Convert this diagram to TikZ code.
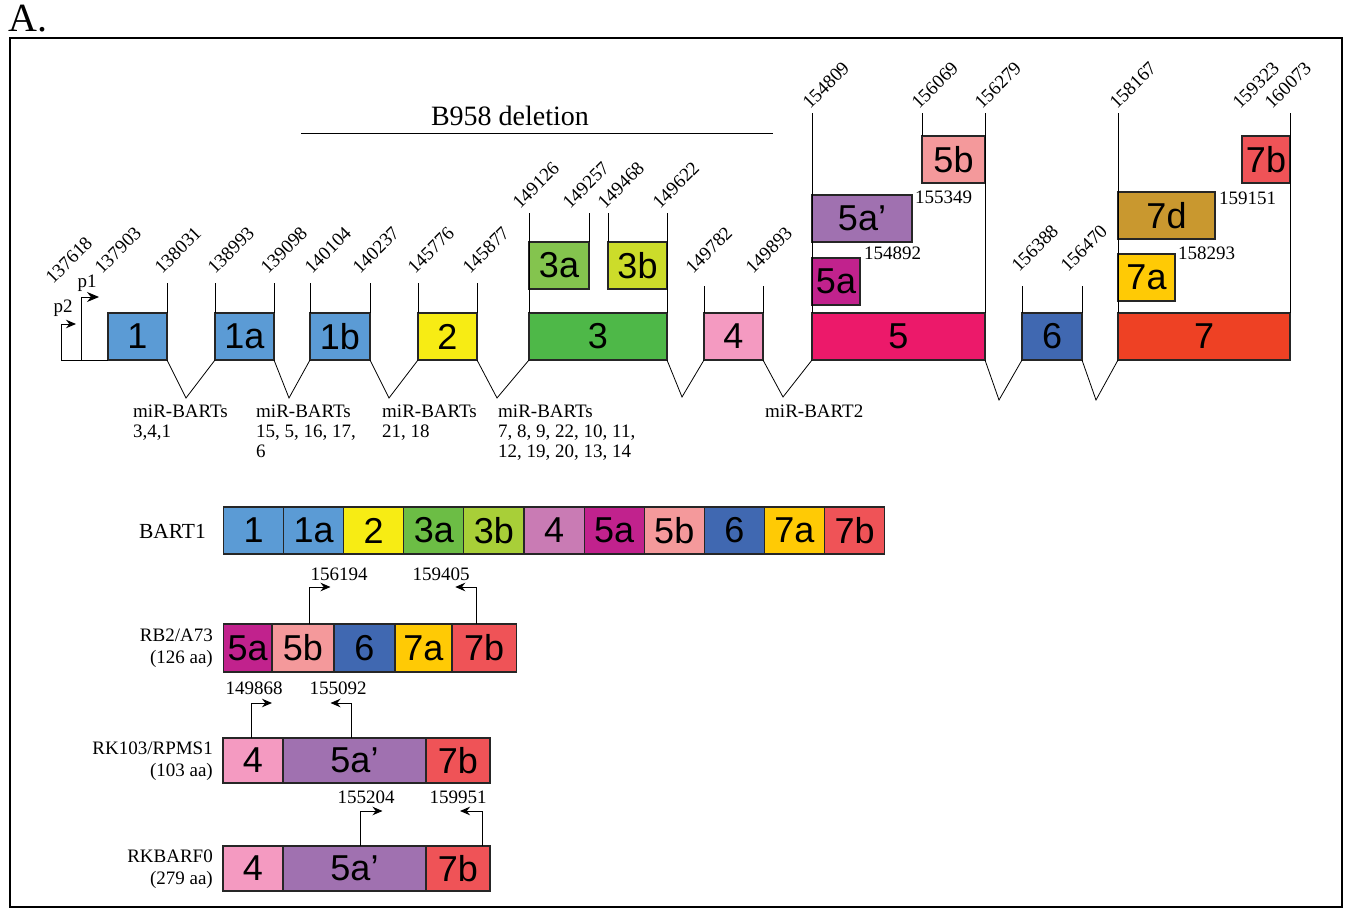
\documentclass[tikz,border=0pt]{standalone}
\usepackage{fontspec}
\setmainfont{Liberation Serif}
\newfontfamily\exonsans{Liberation Sans}
\usepackage{xcolor}
\usepackage{tikz}
\usetikzlibrary{arrows.meta,positioning}

\definecolor{exblue}{RGB}{91,155,213}
\definecolor{exyellow}{RGB}{247,236,20}
\definecolor{exgreen}{RGB}{78,184,72}
\definecolor{exgreenlt}{RGB}{132,196,78}
\definecolor{exlime}{RGB}{204,220,42}
\definecolor{expink}{RGB}{244,154,193}
\definecolor{excrimson}{RGB}{236,25,106}
\definecolor{exmagenta}{RGB}{193,34,141}
\definecolor{exlavender}{RGB}{160,113,176}
\definecolor{exsalmon}{RGB}{244,153,155}
\definecolor{exnavy}{RGB}{64,104,177}
\definecolor{exorange}{RGB}{238,65,36}
\definecolor{exgold}{RGB}{255,202,5}
\definecolor{exochre}{RGB}{201,152,47}
\definecolor{exred}{RGB}{239,83,87}
\definecolor{trgreen}{RGB}{108,189,69}
\definecolor{trlime}{RGB}{168,207,56}
\definecolor{trorchid}{RGB}{201,123,180}

\newcommand\posfont{\fontsize{19}{20}\selectfont}
\newcommand\exonfont{\exonsans\fontsize{36}{36}\selectfont}
\newcommand\trfont{\fontsize{19}{22}\selectfont}
\newcommand\delfont{\fontsize{28}{30}\selectfont}
\newcommand\panelfont{\fontsize{40}{40}\selectfont}

\begin{document}
\begin{tikzpicture}[x=1pt,y=-1pt,
        exon/.style={draw=black!85, line width=1.1pt, inner sep=0pt, outer sep=0pt, minimum height=47pt, anchor=north west, font=\exonfont},
        tbox/.style={exon, minimum height=45pt},
        sitetick/.style={line width=0.8pt},
        intron/.style={line width=0.8pt},
        poslbl/.style={rotate=45, anchor=base west, inner sep=0pt, font=\posfont},
        sidelbl/.style={anchor=west, inner sep=0pt, font=\posfont},
        mirlbl/.style={anchor=north west, align=left, inner sep=0pt, font=\posfont},
        trlbl/.style={anchor=east, align=right, inner sep=0pt, font=\trfont},
        orfarrow/.style={line width=0.9pt, -{Stealth[length=10pt,width=8.5pt]}}]
        \useasboundingbox (0,0) rectangle (1350,909);
        \node[anchor=base west, inner sep=0pt, font=\panelfont] (panel) at (8,32) {A.};
        \draw[line width=2pt] (10,38) rectangle (1342,907);

        \draw[line width=1pt] (301,134) -- (773,134);
        \node[anchor=base, inner sep=0pt, font=\delfont] (del) at (510,126) {B958 deletion};

        \node[exon, fill=exblue, minimum width=59pt] (x1) at (108,313) {1};
        \node[exon, fill=exblue, minimum width=59pt] (x1a) at (215,313) {1a};
        \node[exon, fill=exblue, minimum width=60pt] (x1b) at (310,313) {1b};
        \node[exon, fill=exyellow, minimum width=59pt] (x2) at (418,313) {2};
        \node[exon, fill=exgreen, minimum width=138pt] (x3) at (529,313) {3};
        \node[exon, fill=exgreenlt, minimum width=60pt] (x3a) at (529,242) {3a};
        \node[exon, fill=exlime, minimum width=59pt] (x3b) at (608,242) {3b};
        \node[exon, fill=expink, minimum width=59pt] (x4) at (704,313) {4};
        \node[exon, fill=excrimson, minimum width=173pt] (x5) at (812,313) {5};
        \node[exon, fill=exmagenta, minimum width=48pt] (x5a) at (812,258) {5a};
        \node[exon, fill=exlavender, minimum width=100pt] (x5ap) at (812,195) {5a’};
        \node[exon, fill=exsalmon, minimum width=63pt] (x5b) at (922,136) {5b};
        \node[exon, fill=exnavy, minimum width=60pt] (x6) at (1022,313) {6};
        \node[exon, fill=exorange, minimum width=172pt] (x7) at (1118,313) {7};
        \node[exon, fill=exgold, minimum width=57pt] (x7a) at (1118,254) {7a};
        \node[exon, fill=exochre, minimum width=97pt] (x7d) at (1118,192) {7d};
        \node[exon, fill=exred, minimum width=48pt] (x7b) at (1242,136) {7b};

        \draw[sitetick] (x1.north east) -- ++(0,-30);
        \draw[sitetick] (x1a.north west) -- ++(0,-30);
        \draw[sitetick] (x1a.north east) -- ++(0,-30);
        \draw[sitetick] (x1b.north west) -- ++(0,-30);
        \draw[sitetick] (x1b.north east) -- ++(0,-30);
        \draw[sitetick] (x2.north west) -- ++(0,-30);
        \draw[sitetick] (x2.north east) -- ++(0,-30);
        \draw[sitetick] (x3.north west) -- ++(0,-100);
        \draw[sitetick] (x3.north east) -- ++(0,-100);
        \draw[sitetick] (x3a.north east) -- ++(0,-29);
        \draw[sitetick] (x3b.north west) -- ++(0,-29);
        \draw[sitetick] (x4.north west) -- ++(0,-27);
        \draw[sitetick] (x4.north east) -- ++(0,-27);
        \draw[sitetick] (x5.north west) -- ++(0,-200);
        \draw[sitetick] (x5.north east) -- ++(0,-200);
        \draw[sitetick] (x5b.north west) -- ++(0,-23);
        \draw[sitetick] (x6.north west) -- ++(0,-27);
        \draw[sitetick] (x6.north east) -- ++(0,-27);
        \draw[sitetick] (x7.north west) -- ++(0,-200);
        \draw[sitetick] (x7.north east) -- ++(0,-200);

        \coordinate (p2) at (61,360);
        \coordinate (p1) at (81,360);
        \draw[intron] (p2) -- (x1.south west);
        \draw[orfarrow] (p2) -- ++(0,-36) -- ++(15,0);
        \draw[line width=0.9pt, -{Stealth[length=12pt,width=10pt]}] (p1) -- ++(0,-63) -- ++(18,0);
        \node[inner sep=0pt, font=\posfont] (p2lbl) at (63,308) {p2};
        \node[inner sep=0pt, font=\posfont] (p1lbl) at (87,283) {p1};

        \draw[intron] (x1.south east) -- ++(19,38) -- (x1a.south west);
        \draw[intron] (x1a.south east) -- ++(15,38) -- (x1b.south west);
        \draw[intron] (x1b.south east) -- ++(19,38) -- (x2.south west);
        \draw[intron] (x2.south east) -- ++(20,38) -- (x3.south west);
        \draw[intron] (x3.south east) -- ++(15,37) -- (x4.south west);
        \draw[intron] (x4.south east) -- ++(20,37) -- (x5.south west);
        \draw[intron] (x5.south east) -- ++(14,40) -- (x6.south west);
        \draw[intron] (x6.south east) -- ++(14,40) -- (x7.south west);

        \foreach \px/\py/\num in {53/285/137618, 102/275/137903, 162/275/138031, 215/275/138993,
                268/275/139098, 312/275/140104, 360/275/140237, 415/275/145776, 470/275/145877,
                520/210/149126, 570/210/149257, 605/210/149468, 660/210/149622, 693/275/149782,
                753/275/149893, 810/110/154809, 919/110/156069, 982/110/156279, 1019/273/156388,
                1068/273/156470, 1117/110/158167, 1240/110/159323, 1272/110/160073}
            \node[poslbl] (s\num) at (\px,\py) {\num};

        \node[sidelbl] (s155349) at (915,197) {155349};
        \node[sidelbl] (s154892) at (864,253) {154892};
        \node[sidelbl] (s159151) at (1219,198) {159151};
        \node[sidelbl] (s158293) at (1178,253) {158293};

        \node[mirlbl] (mir1) at (133,405) {miR-BARTs\\3,4,1};
        \node[mirlbl] (mir2) at (256,405) {miR-BARTs\\15, 5, 16, 17,\\6};
        \node[mirlbl] (mir3) at (382,405) {miR-BARTs\\21, 18};
        \node[mirlbl] (mir4) at (498,405) {miR-BARTs\\7, 8, 9, 22, 10, 11,\\12, 19, 20, 13, 14};
        \node[mirlbl] (mir5) at (765,405) {miR-BART2};

        \node[trlbl, font=\fontsize{21.5}{22}\selectfont] (bartname) at (206,531) {BART1};
        \foreach \lbl/\col [count=\i] in {1/exblue, 1a/exblue, 2/exyellow, 3a/trgreen, 3b/trlime, 4/trorchid,
                5a/exmagenta, 5b/exsalmon, 6/exnavy, 7a/exgold, 7b/exred}
            \node[exon, fill=\col, minimum width=60.1pt] (b\i) at ({223.5+60.1*(\i-1)},507) {\lbl};

        \node[trlbl] (rbname) at (213,648) {RB2/A73\\(126 aa)};
        \node[exon, fill=exmagenta, minimum height=48pt, minimum width=48.5pt] (r5a) at (223.5,624) {5a};
        \node[exon, fill=exsalmon, minimum height=48pt, minimum width=62pt, right=0pt of r5a] (r5b) {5b};
        \node[exon, fill=exnavy, minimum height=48pt, minimum width=61pt, right=0pt of r5b] (r6) {6};
        \node[exon, fill=exgold, minimum height=48pt, minimum width=57pt, right=0pt of r6] (r7a) {7a};
        \node[exon, fill=exred, minimum height=48pt, minimum width=64.5pt, right=0pt of r7a] (r7b) {7b};
        \draw[orfarrow] ([xshift=6.5pt]r5b.north) -- ++(0,-37) -- ++(21,0);
        \draw[orfarrow] ([xshift=-8pt]r7b.north) -- ++(0,-37) -- ++(-21,0);
        \node[inner sep=0pt, font=\posfont] (a156194) at (339,574) {156194};
        \node[inner sep=0pt, font=\posfont] (a159405) at (441,574) {159405};

        \node[trlbl] (rkname) at (213,761) {RK103/RPMS1\\(103 aa)};
        \node[tbox, fill=expink, minimum width=60pt] (k4) at (223,738) {4};
        \node[tbox, fill=exlavender, minimum width=143pt, right=0pt of k4] (k5ap) {5a’};
        \node[tbox, fill=exred, minimum width=64pt, right=0pt of k5ap] (k7b) {7b};
        \draw[orfarrow] ([xshift=-2pt]k4.north) -- ++(0,-35) -- ++(21,0);
        \draw[orfarrow] ([xshift=-3pt]k5ap.north) -- ++(0,-35) -- ++(-21,0);
        \node[inner sep=0pt, font=\posfont] (a149868) at (254,688) {149868};
        \node[inner sep=0pt, font=\posfont] (a155092) at (338,688) {155092};

        \node[trlbl] (rfname) at (213,869) {RKBARF0\\(279 aa)};
        \node[tbox, fill=expink, minimum width=60pt] (f4) at (223,846) {4};
        \node[tbox, fill=exlavender, minimum width=143pt, right=0pt of f4] (f5ap) {5a’};
        \node[tbox, fill=exred, minimum width=64pt, right=0pt of f5ap] (f7b) {7b};
        \draw[orfarrow] ([xshift=6pt]f5ap.north) -- ++(0,-35) -- ++(22,0);
        \draw[orfarrow] ([xshift=24pt]f7b.north) -- ++(0,-35) -- ++(-22,0);
        \node[inner sep=0pt, font=\posfont] (a155204) at (366,797) {155204};
        \node[inner sep=0pt, font=\posfont] (a159951) at (458,797) {159951};
\end{tikzpicture}
\end{document}
